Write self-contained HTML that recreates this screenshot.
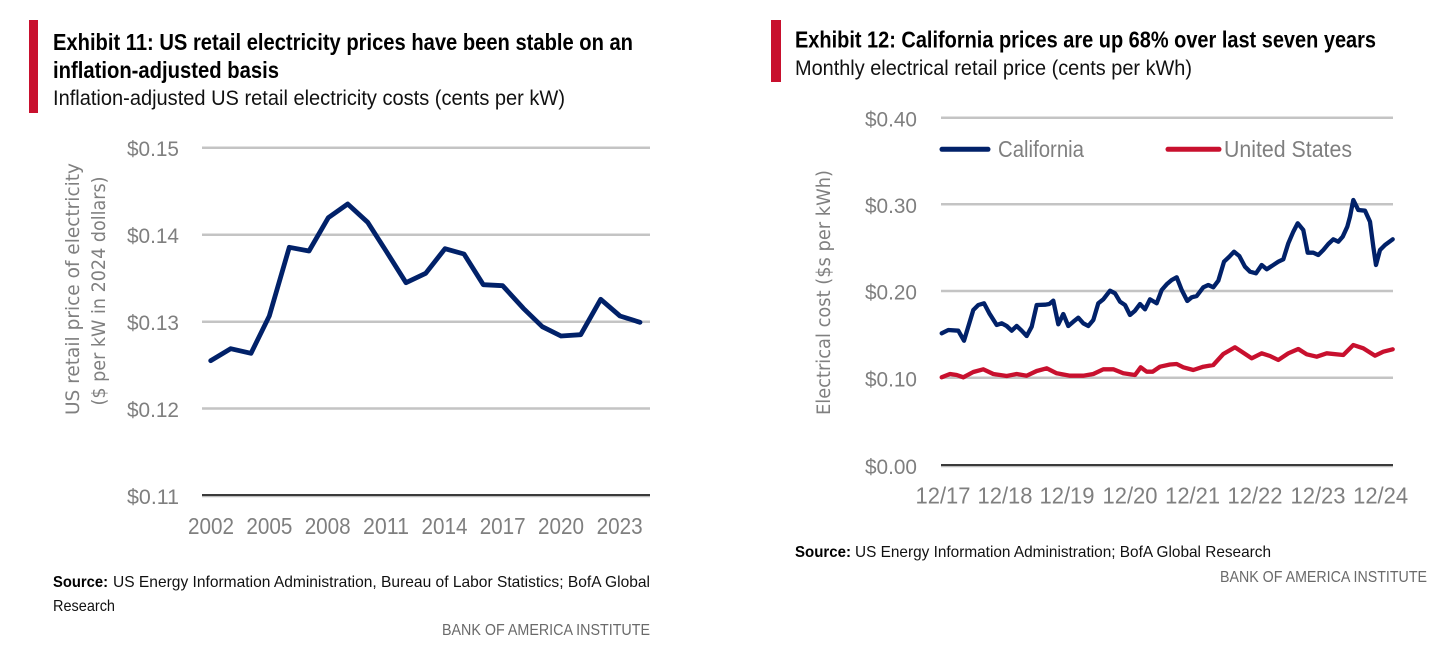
<!DOCTYPE html>
<html>
<head>
<meta charset="utf-8">
<style>
html,body{margin:0;padding:0;background:#fff;}
svg{display:block;}
.t{font-family:"Liberation Sans",sans-serif;}
.ax{font-family:"DejaVu Sans","Liberation Sans",sans-serif;fill:#808080;}
.tick{font-family:"Liberation Sans",sans-serif;fill:#7f7f7f;}
</style>
</head>
<body>
<svg width="1439" height="656" viewBox="0 0 1439 656" xmlns="http://www.w3.org/2000/svg">
<rect x="0" y="0" width="1439" height="656" fill="#fff"/>

<!-- ===== LEFT: Exhibit 11 ===== -->
<rect x="29" y="20" width="9" height="93" fill="#c8102e"/>
<text class="t" x="53" y="50" font-size="23" font-weight="bold" fill="#000" textLength="580" lengthAdjust="spacingAndGlyphs">Exhibit 11: US retail electricity prices have been stable on an</text>
<text class="t" x="53" y="78" font-size="23" font-weight="bold" fill="#000" textLength="226" lengthAdjust="spacingAndGlyphs">inflation-adjusted basis</text>
<text class="t" x="53" y="105" font-size="21" fill="#111" textLength="512" lengthAdjust="spacingAndGlyphs">Inflation-adjusted US retail electricity costs (cents per kW)</text>

<!-- gridlines -->
<g stroke="#c4c4c4" stroke-width="2.5">
<line x1="202" y1="147.7" x2="650" y2="147.7"/>
<line x1="202" y1="234.7" x2="650" y2="234.7"/>
<line x1="202" y1="321.7" x2="650" y2="321.7"/>
<line x1="202" y1="408.5" x2="650" y2="408.5"/>
</g>
<line x1="202" y1="495.8" x2="650" y2="495.8" stroke="#bdbdbd" stroke-width="3"/>
<line x1="202" y1="495" x2="650" y2="495" stroke="#3a3a3a" stroke-width="2"/>

<!-- y tick labels -->
<g class="tick" font-size="21">
<text x="127" y="156" textLength="52" lengthAdjust="spacingAndGlyphs">$0.15</text>
<text x="127" y="243" textLength="52" lengthAdjust="spacingAndGlyphs">$0.14</text>
<text x="127" y="330" textLength="52" lengthAdjust="spacingAndGlyphs">$0.13</text>
<text x="127" y="417" textLength="52" lengthAdjust="spacingAndGlyphs">$0.12</text>
<text x="127" y="504" textLength="52" lengthAdjust="spacingAndGlyphs">$0.11</text>
</g>

<!-- x tick labels -->
<g class="tick" font-size="23" text-anchor="middle">
<text x="211" y="534" textLength="46" lengthAdjust="spacingAndGlyphs">2002</text>
<text x="269.4" y="534" textLength="46" lengthAdjust="spacingAndGlyphs">2005</text>
<text x="327.7" y="534" textLength="46" lengthAdjust="spacingAndGlyphs">2008</text>
<text x="386" y="534" textLength="46" lengthAdjust="spacingAndGlyphs">2011</text>
<text x="444.5" y="534" textLength="46" lengthAdjust="spacingAndGlyphs">2014</text>
<text x="502.7" y="534" textLength="46" lengthAdjust="spacingAndGlyphs">2017</text>
<text x="561" y="534" textLength="46" lengthAdjust="spacingAndGlyphs">2020</text>
<text x="619.6" y="534" textLength="46" lengthAdjust="spacingAndGlyphs">2023</text>
</g>

<!-- axis title -->
<text class="ax" font-size="19" text-anchor="middle" transform="translate(79,289) rotate(-90)" textLength="252" lengthAdjust="spacingAndGlyphs">US retail price of electricity</text>
<text class="ax" font-size="19" text-anchor="middle" transform="translate(105,291) rotate(-90)" textLength="229" lengthAdjust="spacingAndGlyphs">($ per kW in 2024 dollars)</text>

<!-- series -->
<polyline fill="none" stroke="#012169" stroke-width="4.8" stroke-linejoin="round" stroke-linecap="round"
points="210.7,360.7 230.7,348.7 251,353.3 269.3,316 289.3,247.3 309,251 328.3,217.7 347.7,204 367.7,222.3 386.7,252 406,282.7 425.7,273.3 445,248.7 464,254 483.3,284.7 502.7,285.7 523.3,308.3 542.3,326.7 561,336 580.7,334.7 600.7,299.3 620,316 640,322.3"/>

<!-- source -->
<text class="t" x="53" y="587" font-size="16" font-weight="bold" fill="#000" textLength="55" lengthAdjust="spacingAndGlyphs">Source:</text>
<text class="t" x="113" y="587" font-size="16" fill="#111" textLength="537" lengthAdjust="spacingAndGlyphs">US Energy Information Administration, Bureau of Labor Statistics; BofA Global</text>
<text class="t" x="53" y="611" font-size="16" fill="#111" textLength="62" lengthAdjust="spacingAndGlyphs">Research</text>
<text class="t" x="442" y="635" font-size="16" fill="#6a6a6a" textLength="208" lengthAdjust="spacingAndGlyphs">BANK OF AMERICA INSTITUTE</text>

<!-- ===== RIGHT: Exhibit 12 ===== -->
<rect x="771" y="20" width="10" height="62" fill="#c8102e"/>
<text class="t" x="795" y="47.5" font-size="23" font-weight="bold" fill="#000" textLength="581" lengthAdjust="spacingAndGlyphs">Exhibit 12: California prices are up 68% over last seven years</text>
<text class="t" x="795" y="75" font-size="21" fill="#111" textLength="397" lengthAdjust="spacingAndGlyphs">Monthly electrical retail price (cents per kWh)</text>

<g stroke="#c4c4c4" stroke-width="2.5">
<line x1="941" y1="117.7" x2="1393" y2="117.7"/>
<line x1="941" y1="204.3" x2="1393" y2="204.3"/>
<line x1="941" y1="291" x2="1393" y2="291"/>
<line x1="941" y1="377.7" x2="1393" y2="377.7"/>
</g>
<line x1="941" y1="465.8" x2="1393" y2="465.8" stroke="#bdbdbd" stroke-width="3"/>
<line x1="941" y1="465" x2="1393" y2="465" stroke="#3a3a3a" stroke-width="2"/>

<g class="tick" font-size="21">
<text x="865" y="126.5" textLength="52" lengthAdjust="spacingAndGlyphs">$0.40</text>
<text x="865" y="213" textLength="52" lengthAdjust="spacingAndGlyphs">$0.30</text>
<text x="865" y="299.7" textLength="52" lengthAdjust="spacingAndGlyphs">$0.20</text>
<text x="865" y="386.4" textLength="52" lengthAdjust="spacingAndGlyphs">$0.10</text>
<text x="865" y="473.8" textLength="52" lengthAdjust="spacingAndGlyphs">$0.00</text>
</g>

<g class="tick" font-size="23" text-anchor="middle">
<text x="943" y="503.5" textLength="55" lengthAdjust="spacingAndGlyphs">12/17</text>
<text x="1005" y="503.5" textLength="55" lengthAdjust="spacingAndGlyphs">12/18</text>
<text x="1067" y="503.5" textLength="55" lengthAdjust="spacingAndGlyphs">12/19</text>
<text x="1130" y="503.5" textLength="55" lengthAdjust="spacingAndGlyphs">12/20</text>
<text x="1192.6" y="503.5" textLength="55" lengthAdjust="spacingAndGlyphs">12/21</text>
<text x="1255" y="503.5" textLength="55" lengthAdjust="spacingAndGlyphs">12/22</text>
<text x="1318" y="503.5" textLength="55" lengthAdjust="spacingAndGlyphs">12/23</text>
<text x="1380.6" y="503.5" textLength="55" lengthAdjust="spacingAndGlyphs">12/24</text>
</g>

<text class="ax" font-size="18.5" text-anchor="middle" transform="translate(830,292.5) rotate(-90)" textLength="245" lengthAdjust="spacingAndGlyphs">Electrical cost ($s per kWh)</text>

<!-- legend -->
<line x1="942" y1="149.3" x2="988" y2="149.3" stroke="#012169" stroke-width="5" stroke-linecap="round"/>
<text class="tick" x="998" y="157" font-size="23" textLength="86" lengthAdjust="spacingAndGlyphs">California</text>
<line x1="1168" y1="149.3" x2="1219" y2="149.3" stroke="#c8102e" stroke-width="5" stroke-linecap="round"/>
<text class="tick" x="1224" y="157" font-size="23" textLength="128" lengthAdjust="spacingAndGlyphs">United States</text>

<!-- series -->
<polyline fill="none" stroke="#c8102e" stroke-width="4.3" stroke-linejoin="round" stroke-linecap="round"
points="941.7,377.3 950,374 956.7,375 963.3,377.3 973.3,372 983.3,369.3 993.3,374 1006.7,376 1016.7,374 1026.7,375.7 1036.7,371 1046.7,368.3 1056.7,373.3 1070,375.7 1083.3,375.7 1093.3,374 1103.3,369.3 1113.3,369.3 1123.3,373.3 1135,375 1140.7,367.3 1146.7,371.7 1152.7,371.7 1160,366.7 1170,364.5 1176.7,364 1183.3,367.3 1193.3,370 1203.3,366.7 1213.3,365 1223.3,354 1235,347.3 1241.7,351.7 1251.7,358.3 1261.7,353.3 1270,356 1278.3,360 1288.3,353.3 1298.3,349 1306.7,354.3 1316.7,356.7 1326.7,353.3 1343.3,355 1353.3,345 1363.3,348.3 1375,355.7 1383.3,351.7 1392.7,349.3"/>
<polyline fill="none" stroke="#012169" stroke-width="4.3" stroke-linejoin="round" stroke-linecap="round"
points="941.7,333.3 948.3,330 958.3,330.7 964,340.7 973.3,310 978.3,305 984,303.3 989.3,313.3 996.7,325 1001.7,323.3 1006.7,326 1011.7,330.7 1016.7,326 1021.7,330.7 1026.7,336 1031.7,326.7 1036.7,305 1045,304.7 1049.3,304 1053.3,300.7 1058.3,324.3 1063.3,314 1068.3,326 1073.3,321.7 1078.3,317.7 1083.3,323.3 1088.3,326 1093.3,320 1098.3,303.3 1103.3,299.3 1110,290.7 1115,293.3 1120,301.7 1125,305 1130,315 1135,310.7 1140,304 1145,309.3 1150,299.3 1156.7,303.3 1161.7,290 1166.7,284.3 1171.7,280 1176.7,277.3 1181.7,290 1187.3,301 1191.7,297.3 1196.7,296 1203.3,287.3 1208.3,285 1213.3,287.3 1218.3,280.7 1224,261.7 1229.3,256.7 1234,251.7 1239.3,256 1245,266.7 1250,271.7 1256,273.3 1261.7,265 1266.7,269.3 1273.3,265 1278.3,261.7 1283.3,259.3 1288.3,243.3 1293.3,231.7 1297.7,223.3 1303.3,230 1307.7,252.7 1313.3,252.7 1318.3,255 1323.3,250 1328.3,244 1333.3,239.3 1338.3,241.7 1342.7,236.7 1347.3,226.7 1350,216.7 1353.3,200 1358.3,210 1365,210.7 1370,221.7 1373.3,246.7 1376,265 1380,250 1385,245 1392.7,239.3"/>

<!-- source -->
<text class="t" x="795" y="557" font-size="16" font-weight="bold" fill="#000" textLength="56" lengthAdjust="spacingAndGlyphs">Source:</text>
<text class="t" x="855" y="557" font-size="16" fill="#111" textLength="416" lengthAdjust="spacingAndGlyphs">US Energy Information Administration; BofA Global Research</text>
<text class="t" x="1220" y="582" font-size="16" fill="#6a6a6a" textLength="207" lengthAdjust="spacingAndGlyphs">BANK OF AMERICA INSTITUTE</text>
</svg>
</body>
</html>
